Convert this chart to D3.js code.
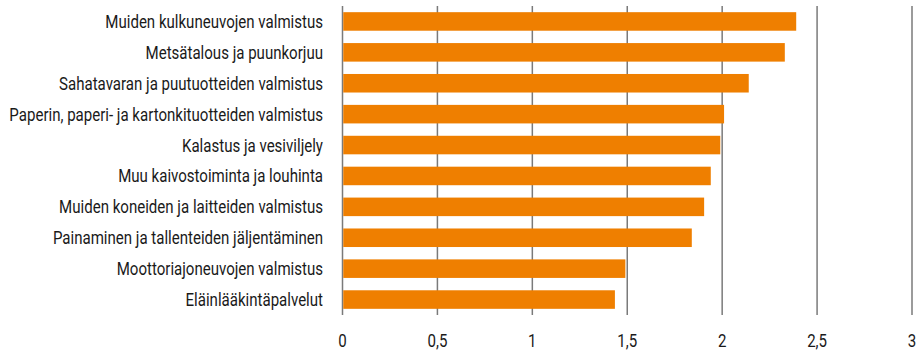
<!DOCTYPE html>
<html>
<head>
<meta charset="utf-8">
<script src="https://cdn.jsdelivr.net/npm/d3@7"></script>
<style>
  body { margin: 0; background: #fff; }
  text { font-family: "Roboto", "Liberation Sans", sans-serif; fill: #1a1a1a; }
</style>
</head>
<body>
<svg id="chart" width="918" height="354"></svg>
<script>
// toimialat ja arvot
var categories = [
    "Muiden kulkuneuvojen valmistus",
    "Metsätalous ja puunkorjuu",
    "Sahatavaran ja puutuotteiden valmistus",
    "Paperin, paperi- ja kartonkituotteiden valmistus",
    "Kalastus ja vesiviljely",
    "Muu kaivostoiminta ja louhinta",
    "Muiden koneiden ja laitteiden valmistus",
    "Painaminen ja tallenteiden jäljentäminen",
    "Moottoriajoneuvojen valmistus",
    "Eläinlääkintäpalvelut"
];
var values = [2.39, 2.33, 2.14, 2.01, 1.99, 1.94, 1.905, 1.84, 1.49, 1.435];
var ticks = [0, 0.5, 1, 1.5, 2, 2.5, 3];

var svg = d3.select("#chart");

var x = d3.scaleLinear()
    .domain([0, 3])
    .range([342.5, 912]);
var y = d3.scaleBand()
    .domain(categories)
    .range([6, 315])
    .paddingInner(0.4)
    .paddingOuter(0.2);

// pystyviivat
svg.append("g").selectAll("line")
    .data(ticks)
    .enter().append("line")
    .attr("x1", function (d) { return x(d); })
    .attr("x2", function (d) { return x(d); })
    .attr("y1", 6)
    .attr("y2", 315)
    .style("stroke", "#7a7a7a")
    .style("stroke-width", 1.5);

svg.append("g").selectAll("rect")
    .data(values)
    .enter().append("rect")
    .attr("x", x(0) + 0.75)
    .attr("y", function (d, i) { return y(categories[i]); })
    .attr("width", function (d) { return x(d) - x(0) - 0.75; })
    .attr("height", y.bandwidth())
    .style("fill", "#ef7f00");

// kategoriat, kapeutetaan koska kapeaa fonttia ei ole
var labels = svg.append("g").selectAll("text")
    .data(categories)
    .enter().append("text")
    .attr("text-anchor", "end")
    .style("font-size", "19px")
    .text(function (d) { return d; });

var widest = 0;
labels.each(function () {
    widest = Math.max(widest, this.getComputedTextLength());
});
var k = 314 / widest;

labels.attr("transform", function (d) {
    return "translate(323," + (y(d) + y.bandwidth() / 2 + 6.5) + ") scale(" + k + ",1)";
});

// x-akselin luvut
svg.append("g").selectAll("text")
    .data(ticks)
    .enter().append("text")
    .attr("text-anchor", "middle")
    .style("font-size", "19px")
    .attr("transform", function (d) {
        return "translate(" + x(d) + ",347) scale(" + k + ",1)";
    })
    .text(function (d) { return String(d).replace(".", ","); });
</script>
</body>
</html>
